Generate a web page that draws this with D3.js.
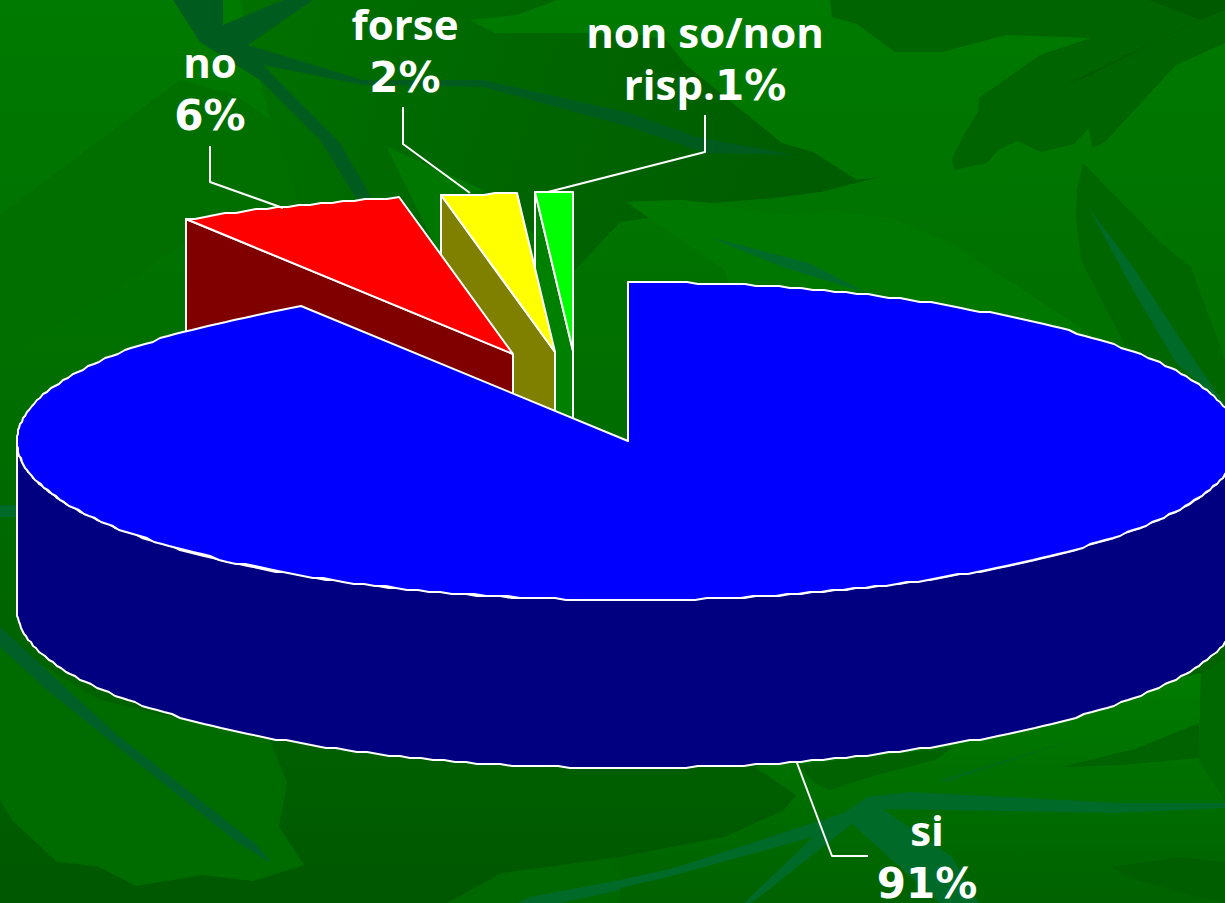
<!DOCTYPE html>
<html><head><meta charset="utf-8">
<script src="https://cdn.jsdelivr.net/npm/d3@7/dist/d3.min.js"></script>
<style>html,body{margin:0;padding:0;background:#006400;overflow:hidden}svg{display:block}
text{font-family:"Open Sans","Noto Sans",sans-serif;font-weight:700;fill:#fff;font-size:42px;text-anchor:middle}
.num{font-family:"DejaVu Sans",sans-serif;font-size:42px}</style>
</head><body><svg id="c" width="1225" height="903"></svg>
<script>
// ---- data ----
const categories = ["si", "no", "forse", "non so/non risp."];
const values = [91, 6, 2, 1];
const labelLines = [["si", "91%"], ["no", "6%"], ["forse", "2%"], ["non so/non", "risp.1%"]];
const topColors = ["#0000ff", "#ff0000", "#ffff00", "#00ff00"];
const wallColors = ["#000080", "#800000", "#808000", "#008000"];

// ---- layout ----
const W = 1225, H = 903;
const centre = [628, 441], radii = [611, 159], depth = 168;
const explode = [[0, 0], [-115, -87], [-73, -89], [-55, -90]];
const labelPos = [[927, 846], [210, 78], [405, 40], [705, 48]];
const lineHeight = 52;
const leaders = [
  [[797, 763], [832, 856], [868, 856]],
  [[210, 146], [210, 182], [283, 208]],
  [[403, 107], [403, 144], [470, 193]],
  [[705, 115], [705, 152], [548, 192]]
];

// ---- background shapes (decorative foliage) ----
const foliage = [
  ["#006f00", [[0,215],[180,80],[235,95],[270,120],[300,210],[190,240],[100,300],[0,360]]],
  ["url(#leaf)", [[240,0],[557,0],[517,15],[470,20],[495,33],[630,33],[666,40],[686,65],[782,143],[813,152],[857,180],[879,177],[821,192],[774,198],[713,203],[678,200],[626,202],[655,217],[620,222],[575,270],[483,190],[387,147],[440,255],[400,197],[300,210],[270,120]]],
  ["#007800", [[387,147],[483,190],[440,197],[440,255]]],
  ["#006400", [[830,0],[832,17],[857,24],[895,52],[942,52],[1006,35],[1091,38],[1040,55],[979,98],[978,112],[964,135],[952,158],[954,170],[987,163],[998,150],[1018,141],[1041,152],[1074,144],[1089,128],[1092,148],[1105,142],[1176,65],[1225,43],[1225,0]]],
  ["#005a00", [[1149,0],[1225,0],[1225,10],[1201,20]]],
  ["#005c00", [[1064,85],[1199,20],[1085,78]]],
  ["#007800", [[626,202],[682,200],[736,208],[794,215],[828,210],[890,218],[950,243],[1100,340],[730,290],[725,270]]],
  ["#006600", [[1083,163],[1077,190],[1076,217],[1081,260],[1126,347],[1225,430],[1225,360],[1191,267],[1161,243]]],
  // lower left leaf
  ["#006c00", [[270,740],[287,783],[279,827],[304,865],[253,881],[202,875],[136,886],[97,866],[57,862],[12,820],[0,800],[0,640],[100,700]]],
  ["#006800", [[447,903],[502,873],[620,857],[620,903]]],
  // lower right bright region
  ["url(#lr)", [[755,767],[1201,673],[1199,760],[1225,800],[1225,903],[620,903],[620,857],[724,837],[784,810],[796,795]]],
  ["#006200", [[798,765],[813,782],[830,790],[873,776],[935,760],[954,747]]],
  ["#006200", [[1062,767],[1135,749],[1199,723],[1199,758],[1122,765]]],
  ["#006800", [[1201,673],[1199,760],[1225,800],[1225,660]]],
  ["#005e00", [[1112,867],[1180,857],[1225,862],[1225,903],[1190,895],[1126,877]]],
  // veins
  ["#005c1e", [[173,0],[193,0],[197,20],[193,0],[223,0],[223,25],[283,0],[313,0],[248,45],[363,80],[483,80],[630,113],[697,137],[794,155],[705,153],[630,127],[483,87],[363,85],[263,65],[340,143],[373,200],[357,200],[320,140],[260,80],[200,42]]],
  ["#006a28", [[709,237],[809,263],[867,293],[782,267]]],
  ["#006a28", [[1089,208],[1133,267],[1199,367],[1225,405],[1176,363],[1133,290]]],
  ["#006028", [[0,627],[115,733],[257,845],[271,863],[237,842],[134,760],[47,690],[0,647]]],
  ["#006a28", [[620,880],[674,868],[844,813],[867,797],[910,792],[1122,803],[1225,803],[1225,808],[1114,813],[883,809],[952,857],[979,903],[940,903],[852,824],[759,897],[751,903],[744,903],[813,837],[664,878],[620,888]]],
  ["#006a28", [[518,903],[530,897],[620,880],[620,890],[560,903]]],
  ["#006a18", [[940,780],[1083,737],[945,782]]],
  ["#006a28", [[0,505],[18,505],[18,517],[0,517]]]
];

// ---- drawing ----
const svg = d3.select("#c");
const defs = svg.append("defs");
const grad = (id, attrs, stops) => {
  const g = defs.append("linearGradient").attr("id", id).attr("gradientUnits", "userSpaceOnUse");
  Object.entries(attrs).forEach(([k, v]) => g.attr(k, v));
  stops.forEach(([o, c]) => g.append("stop").attr("offset", o).attr("stop-color", c));
};
grad("bg", {x1:0, y1:0, x2:0, y2:903}, [[0,"#007a00"],[0.5,"#006c00"],[1,"#005800"]]);
grad("leaf", {x1:250, y1:0, x2:800, y2:190}, [[0,"#007000"],[0.5,"#006600"],[1,"#005c00"]]);
grad("lr", {x1:0, y1:670, x2:0, y2:903}, [[0,"#007c00"],[1,"#006200"]]);
svg.append("rect").attr("width",W).attr("height",H).attr("fill","url(#bg)");

const poly = d3.line();
svg.append("g").selectAll("path").data(foliage).join("path")
  .attr("d", d => poly(d[1]) + "Z").attr("fill", d => d[0]);

// pie geometry from the data
const arcs = d3.pie().sort(null).startAngle(0).endAngle(2 * Math.PI)(values);
const sx = d3.scaleLinear().domain([-1, 1]).range([centre[0] - radii[0], centre[0] + radii[0]]);
const sy = d3.scaleLinear().domain([-1, 1]).range([centre[1] - radii[1], centre[1] + radii[1]]);
// the reference's rim is slightly stepped: snap rim samples to a coarse grid
const rimPt = (t, o) => [Math.round(sx(Math.sin(t))) + o[0], Math.round(sy(-Math.cos(t)) / 2) * 2 + o[1]];
const rim = (a0, a1, o) => {
  const n = Math.max(2, Math.ceil((a1 - a0) / (1.1 * Math.PI / 180)));
  return d3.range(n + 1).map(i => rimPt(a0 + (a1 - a0) * i / n, o));
};
const down = p => [p[0], p[1] + depth];
const stroke = sel => sel.attr("stroke", "#fff").attr("stroke-width", 2).attr("stroke-linejoin", "round");

const plot = svg.append("g");
// draw back-to-front: smallest exploded slice first, main slice last
[3, 2, 1].forEach(i => {
  const a = arcs[i], o = explode[i];
  const apex = [centre[0] + o[0], centre[1] + o[1]];
  const r = rim(a.startAngle, a.endAngle, o);
  plot.append("path").attr("d", poly([r[0], apex, down(apex), down(r[0])]) + "Z")
      .attr("fill", wallColors[i]).call(stroke);
  plot.append("path").attr("d", poly([apex, ...r]) + "Z").attr("fill", topColors[i]).call(stroke);
});
// main slice
{
  const a = arcs[0];
  const r = rim(a.startAngle, a.endAngle, [0, 0]);
  const lower = rim(Math.PI / 2, 1.5 * Math.PI, [0, 0]);
  const side = [...lower, ...lower.slice().reverse().map(down)];
  plot.append("path").attr("d", poly(side) + "Z").attr("fill", wallColors[0]).call(stroke);
  plot.append("path").attr("d", poly([centre, ...r]) + "Z").attr("fill", topColors[0]).call(stroke);
}

// leaders & labels
svg.append("g").selectAll("path").data(leaders).join("path")
  .attr("d", d => poly(d)).attr("fill", "none").call(stroke);
const lab = svg.append("g").selectAll("text").data(categories).join("text")
  .attr("transform", (d, i) => `translate(${labelPos[i][0]},${labelPos[i][1]})`);
lab.each(function (d, i) {
  const t = d3.select(this);
  labelLines[i].forEach((line, j) => {
    // numerals are wider in the reference: set them in a wider face
    const m = line.match(/^(.*?)(\d+%)$/);
    const first = t.append("tspan").attr("x", 0).attr("y", j * lineHeight);
    if (m) {
      if (m[1]) first.text(m[1]);
      (m[1] ? t.append("tspan") : first).attr("class", "num").text(m[2]);
    } else first.text(line);
  });
});
</script></body></html>
